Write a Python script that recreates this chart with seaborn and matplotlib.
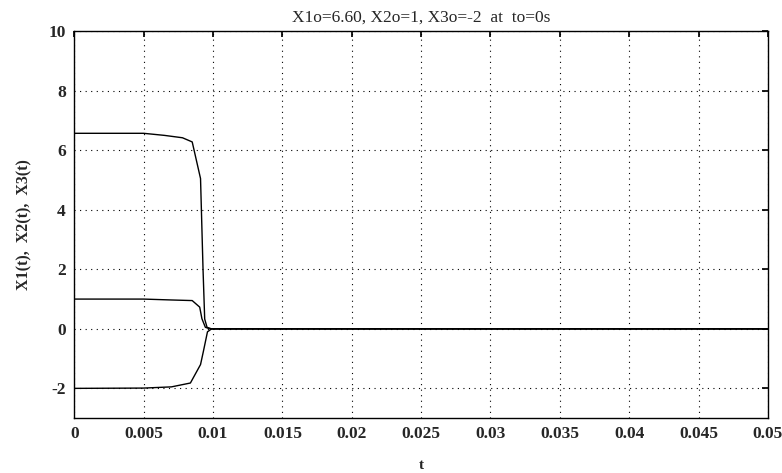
import numpy as np
import pandas as pd
import seaborn as sns
import matplotlib
matplotlib.use("Agg")
import matplotlib.pyplot as plt

sns.set_theme(style="white")
plt.rcParams['font.family'] = ['Liberation Serif', 'DejaVu Serif']
plt.rcParams['axes.unicode_minus'] = False

t1 = [0, 0.005, 0.0065, 0.0078, 0.0085, 0.0091, 0.00928, 0.0094, 0.00957, 0.0099, 0.0105, 0.05]
x1 = [6.57, 6.57, 6.5, 6.42, 6.28, 5.05, 2.0, 0.33, 0.05, 0.0, 0.0, 0.0]
t2 = [0, 0.005, 0.007, 0.0085, 0.00904, 0.0092, 0.00945, 0.0098, 0.0105, 0.05]
x2 = [1.0, 1.0, 0.97, 0.95, 0.73, 0.34, 0.05, 0.0, 0.0, 0.0]
t3 = [0, 0.005, 0.007, 0.00837, 0.0091, 0.0093, 0.0096, 0.0099, 0.0105, 0.05]
x3 = [-2.0, -1.99, -1.95, -1.82, -1.2, -0.77, -0.1, 0.0, 0.0, 0.0]

xticks = [0, 0.005, 0.01, 0.015, 0.02, 0.025, 0.03, 0.035, 0.04, 0.045, 0.05]
xticklabels = ["0", "0.005", "0.01", "0.015", "0.02", "0.025", "0.03", "0.035", "0.04", "0.045", "0.05"]
yticks = [-2, 0, 2, 4, 6, 8, 10]

df = pd.concat([
    pd.DataFrame({"t": t1, "x": x1, "s": "X1"}),
    pd.DataFrame({"t": t2, "x": x2, "s": "X2"}),
    pd.DataFrame({"t": t3, "x": x3, "s": "X3"}),
])

fig = plt.figure(figsize=(7.82, 4.73), dpi=100)
ax = fig.add_axes([0.095, 0.116, 0.887, 0.818])
sns.lineplot(data=df, x="t", y="x", units="s", estimator=None, color="black",
             linewidth=1.0, sort=False, ax=ax, legend=False)

ax.set_xlim(0, 0.05)
ax.set_ylim(-3, 10)
ax.set_xticks(xticks)
ax.set_xticklabels(xticklabels)
ax.set_yticks(yticks)
ax.grid(True, color="black", linestyle=(0, (1, 4)), linewidth=0.8)
for s in ax.spines.values():
    s.set_color("black")
    s.set_linewidth(1.0)
ax.tick_params(axis="both", direction="in", length=4, color="black",
               top=True, right=True, labelsize=12.5, pad=6)
for lab in ax.get_xticklabels() + ax.get_yticklabels():
    lab.set_fontweight("bold")
ax.set_title("X1o=6.60, X2o=1, X3o=-2  at  to=0s", fontsize=12.5, pad=7)
ax.set_xlabel("t", fontsize=11, fontweight="bold", labelpad=12)
ax.set_ylabel("X1(t),  X2(t),  X3(t)", fontsize=11.5, fontweight="bold", labelpad=12)

fig.savefig("out.png", dpi=100)
